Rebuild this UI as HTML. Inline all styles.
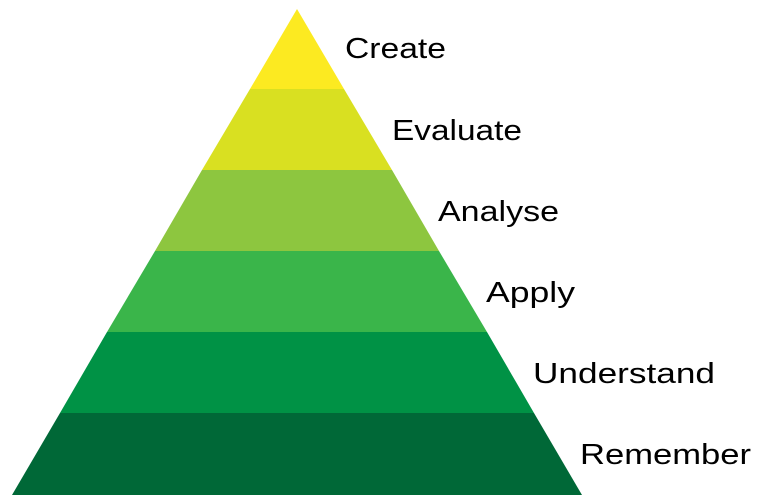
<!DOCTYPE html>
<html><head><meta charset="utf-8"><style>html,body{margin:0;padding:0;background:#fff;width:757px;height:503px;overflow:hidden}</style></head>
<body>
<svg width="757" height="503" viewBox="0 0 757 503" xmlns="http://www.w3.org/2000/svg">
<polygon points="297,9 344,89 250,89" fill="#FCEA21"/>
<polygon points="250,89 344,89 392,170 202,170" fill="#D9E021"/>
<polygon points="202,170 392,170 439,251 155,251" fill="#8DC63F"/>
<polygon points="155,251 439,251 487,332 107,332" fill="#3AB54A"/>
<polygon points="107,332 487,332 534,413 60,413" fill="#009245"/>
<polygon points="60,413 534,413 582,495 12,495" fill="#006837"/>
<g font-family="Liberation Sans, sans-serif" font-size="29" fill="#000">
<text x="345" y="58" textLength="101" lengthAdjust="spacingAndGlyphs">Create</text>
<text x="392" y="140" textLength="130" lengthAdjust="spacingAndGlyphs">Evaluate</text>
<text x="438" y="221" textLength="121" lengthAdjust="spacingAndGlyphs">Analyse</text>
<text x="486" y="302" textLength="89" lengthAdjust="spacingAndGlyphs">Apply</text>
<text x="533" y="383" textLength="182" lengthAdjust="spacingAndGlyphs">Understand</text>
<text x="580" y="464" textLength="171" lengthAdjust="spacingAndGlyphs">Remember</text>
</g>
</svg>
</body></html>
